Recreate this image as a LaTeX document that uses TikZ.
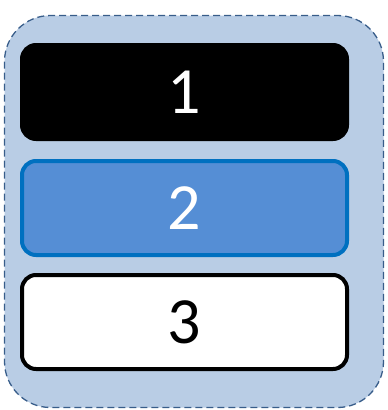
\documentclass[tikz,border=0pt]{standalone}
\usepackage{fontspec}
\setmainfont{Carlito}
\usepackage{xcolor}
\definecolor{panelfill}{HTML}{B9CDE5}
\definecolor{paneldash}{HTML}{385D8A}
\definecolor{midfill}{HTML}{558ED5}
\definecolor{midline}{HTML}{0070C0}
\usetikzlibrary{positioning}

\begin{document}
\begin{tikzpicture}[x=1pt, y=-1pt,
    slot/.style={rectangle, rounded corners=14pt, line width=4pt,
        minimum width=325pt, minimum height=94pt, inner sep=0pt,
        font=\fontsize{66}{72}\selectfont}]
    \useasboundingbox (0,0) rectangle (388,410);

    % Outer panel
    \draw[fill=panelfill, line width=1.3pt, draw=paneldash,
        dash pattern=on 7pt off 4pt, rounded corners=46pt]
        (4.5,15.5) rectangle (383.5,407.5);

    % Stacked slots
    \node[slot, draw=black, fill=black, text=white] (one) at (184.5,92) {1};
    \node[slot, draw=midline, fill=midfill, text=white] (two) at (184.5,208) {2};
    \node[slot, draw=black, fill=white, text=black] (three) at (184.5,322) {3};
\end{tikzpicture}
\end{document}
